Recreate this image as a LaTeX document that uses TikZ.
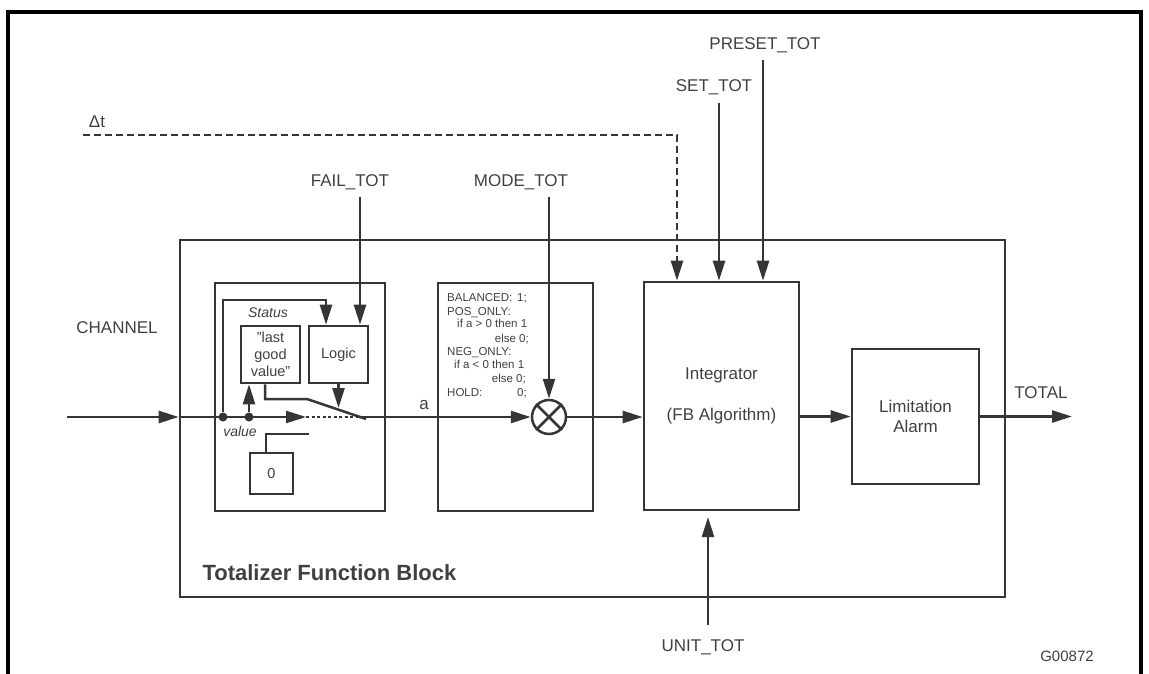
\documentclass[tikz,border=0pt]{standalone}
\usepackage{fontspec}
\setmainfont{Liberation Sans}
\usetikzlibrary{arrows.meta,calc}
\definecolor{ln}{HTML}{353535}
\definecolor{tx}{HTML}{404040}
\begin{document}
\begin{tikzpicture}[x=1pt,y=-1pt,
  every node/.style={text=tx},
  lbl/.style={font=\fontsize{17}{20}\selectfont},
  mid/.style={font=\fontsize{14.5}{17}\selectfont},
  box/.style={draw=ln,line width=2.6pt,inner sep=0pt,rectangle},
  sig/.style={draw=ln,line width=2.5pt},
  arr/.style={sig,-{Triangle[length=20pt,width=12pt]}},
  small/.style={font=\fontsize{11.5}{13}\selectfont,inner sep=0pt},
  dotn/.style={circle,fill=ln,inner sep=0pt,minimum size=9pt}
]
\useasboundingbox (0,0) rectangle (1149,674);
\draw[line width=3.2pt,black] (8,674) -- (8,12) -- (1141,12) -- (1141,674);

% blocks
\node[box,minimum width=825pt,minimum height=357pt] (tfb) at (592.5,418.5) {};
\node[box,minimum width=170pt,minimum height=228pt] (lblk) at (300,397) {};
\node[box,mid,minimum width=59pt,minimum height=57pt,align=center] (lgv) at (270.5,354.5) {"last\\good\\value"};
\node[box,mid,minimum width=59pt,minimum height=57pt] (logic) at (338.5,354.5) {Logic};
\node[box,mid,minimum width=43pt,minimum height=41pt] (zero) at (271.5,473.5) {0};
\node[box,minimum width=155pt,minimum height=228pt] (mblk) at (515.5,397) {};
\node[circle,draw=ln,line width=2.5pt,minimum size=34pt,inner sep=0pt] (mult) at (549,417) {};
\draw[sig] (mult.north west) -- (mult.south east) (mult.north east) -- (mult.south west);
\node[box,lbl,minimum width=155pt,minimum height=228pt,align=center] (integ) at (721.5,396) {Integrator\\[21pt](FB Algorithm)};
\node[box,lbl,minimum width=127pt,minimum height=135pt,align=center] (lim) at (915.5,416.5) {Limitation\\Alarm};

\node[dotn] (d1) at (223,417) {};
\node[dotn] (d2) at (249,417) {};

% coordinates
\coordinate (chin) at (67,417);
\coordinate (swa) at (306,417);
\coordinate (swb) at (363,417);
\coordinate (knee) at (307,399);
\coordinate (swe) at (366,419);
\coordinate (lgtip) at (338.5,408);
\coordinate (loopc) at (326,300);
\coordinate (zl) at (309,434);
\coordinate (fail) at (360,197);
\coordinate (mode) at (549,197);
\coordinate (dtin) at (83,135);
\coordinate (dtc) at (677,135);
\coordinate (set) at (719,103);
\coordinate (preset) at (763,60);
\coordinate (unit) at (708,625);
\coordinate (utip) at (708,517);
\coordinate (out) at (1072,416.5);

% connectors
\draw[arr] (chin) -- (chin -| tfb.west);
\draw[arr] (chin -| tfb.west) -- (swa);
\draw[sig,dash pattern=on 3pt off 2.5pt] (swa) -- (swb);
\draw[sig] ($(lgv.south)+(-5.5,0)$) |- (knee) -- (swe);
\draw[arr] (logic.south) -- (lgtip);
\draw[arr] (d1) |- (loopc) -- (loopc |- logic.north);
\draw[arr] (d2) -- (d2 |- lgv.south);
\draw[sig] ([xshift=-5.5pt]zero.north) |- (zl);
\draw[arr] (fail) -- (fail |- logic.north);
\draw[arr] (swb) -- (mult.west);
\draw[arr] (mode) -- (mult.north);
\draw[arr] (mult.east) -- (mult.east -| integ.west);
\draw[arr,dash pattern=on 7pt off 4pt] (dtin) -- (dtc) -- (dtc |- integ.north);
\draw[arr] (set) -- (set |- integ.north);
\draw[arr] (preset) -- (preset |- integ.north);
\draw[arr] (unit) -- (utip);
\draw[arr] (lim.west -| integ.east) -- (lim.west);
\draw[arr] (lim.east) -- (out);

% labels
\node[lbl] (ldt) at (97,122) {Δt};
\node[lbl] (lch) at (117,328) {CHANNEL};
\node[lbl] (lfail) at (350,182) {FAIL\_TOT};
\node[lbl] (lmode) at (521,182) {MODE\_TOT};
\node[lbl] (lset) at (714,87) {SET\_TOT};
\node[lbl] (lpreset) at (765,45) {PRESET\_TOT};
\node[lbl] (ltotal) at (1041,393) {TOTAL};
\node[lbl] (lunit) at (703,647) {UNIT\_TOT};
\node[font=\fontsize{15}{18}\selectfont] (lg) at (1067,656) {G00872};
\node[lbl] (la) at (424,405) {a};
\node[font=\fontsize{14}{16}\selectfont\itshape] (lstat) at (268,313) {Status};
\node[font=\fontsize{14}{16}\selectfont\itshape] (lval) at (240,431) {value};
\node[anchor=west,font=\fontsize{22}{26}\selectfont\bfseries] (ltfb) at (199,573) {Totalizer Function Block};

% mode table
\node[small,anchor=base west] (t1) at (447,301) {BALANCED:};
\node[small,anchor=base west] (t1b) at (517,301) {1;};
\node[small,anchor=base west] (t2) at (447,315) {POS\_ONLY:};
\node[small,anchor=base west] (t3) at (457,327) {if a > 0 then 1};
\node[small,anchor=base east] (t4) at (529,342) {else 0;};
\node[small,anchor=base west] (t5) at (447,355) {NEG\_ONLY:};
\node[small,anchor=base west] (t6) at (454,368) {if a < 0 then 1};
\node[small,anchor=base east] (t7) at (526,382) {else 0;};
\node[small,anchor=base west] (t8) at (447,396) {HOLD:};
\node[small,anchor=base east] (t8b) at (527,396) {0;};
\end{tikzpicture}
\end{document}
